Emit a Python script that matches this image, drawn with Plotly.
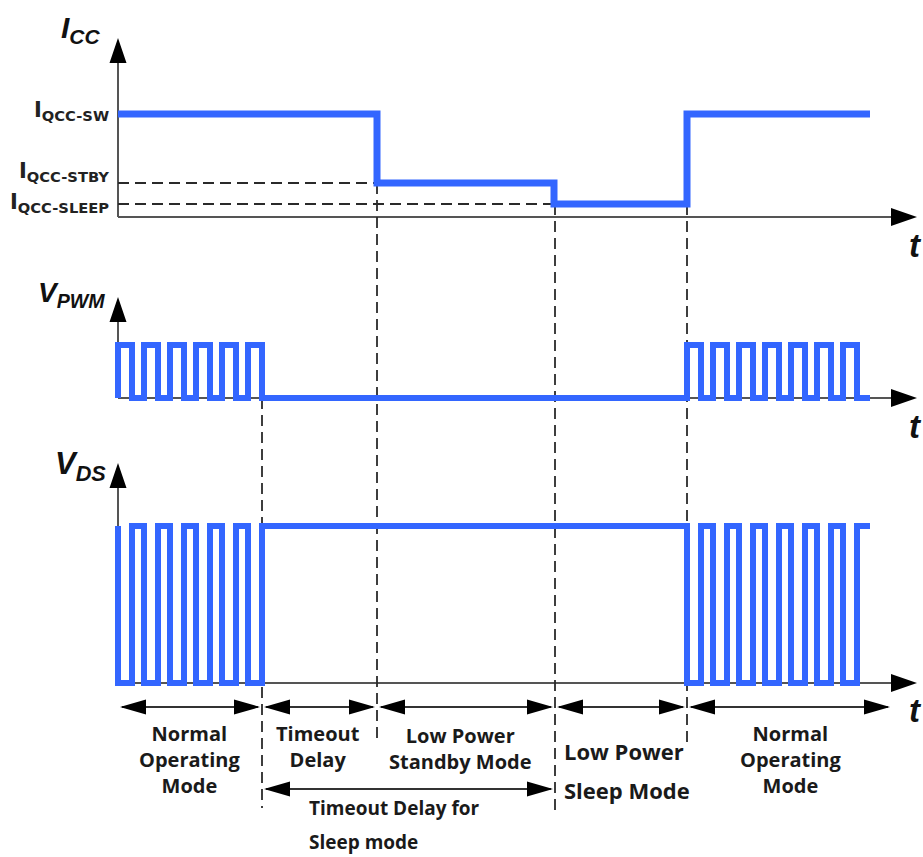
import plotly.graph_objects as go

W, H = 923, 857

# ---------------- data (time in arbitrary units) ----------------
# I_CC levels (normalised to the switching level)
icc_levels = [1.0, 0.33, 0.126]
icc_tick_text = ["I<sub>QCC-SW</sub>", "I<sub>QCC-STBY</sub>", "I<sub>QCC-SLEEP</sub>"]

# I_CC step trace
icc_t = [0, 259, 436, 569, 752]
icc_v = [1.0, 0.33, 0.126, 1.0, 1.0]

# PWM gate signal (edge times and levels, step trace)
pwm_t = [0, 0, 14, 26, 40, 52, 66, 78, 92, 104, 118, 130, 144,
         569, 583, 595, 609, 621, 635, 647, 661, 673, 687, 699, 713, 725, 739, 752]
pwm_v = [0, 1, 0, 1, 0, 1, 0, 1, 0, 1, 0, 1, 0,
         1, 0, 1, 0, 1, 0, 1, 0, 1, 0, 1, 0, 1, 0, 0]

# Drain-source voltage (complementary step trace)
vds_t = pwm_t
vds_v = [1, 0, 1, 0, 1, 0, 1, 0, 1, 0, 1, 0, 1,
         0, 1, 0, 1, 0, 1, 0, 1, 0, 1, 0, 1, 0, 1, 1]

# Mode boundaries along time axis
mode_bounds = [0, 144, 259, 437, 569, 774]
sleep_timeout = [144, 437]
event_times = [144, 259, 437, 569]

# ---------------- layout helpers (pixel geometry) ----------------
X0 = 118            # pixel of t = 0
BLUE = "#3366ff"
AXC = "#555555"
DARK = "#1a1a1a"


def panel_range(base_px, one_px):
    s = base_px - one_px
    return [-(H - base_px) / s, base_px / s]


def tx(xp):
    return xp - X0


panels = [  # baseline px, level-1 px, arrow tip px
    (217, 114, 38),
    (398, 345, 297),
    (683, 526, 463),
]
AXIS_END = tx(917)

fig = go.Figure()

# ---------------- axes (lines + arrowheads) ----------------
tri_x, tri_y = [], []


def add_tri(pts):
    for p in pts:
        tri_x.append(p[0])
        tri_y.append(p[1])
    tri_x.append(pts[0][0])
    tri_y.append(pts[0][1])
    tri_x.append(None)
    tri_y.append(None)


for base, one, tip in panels:
    fig.add_shape(type="line", xref="x", yref="y4", x0=0, x1=0, y0=base, y1=tip + 10,
                  line=dict(color=AXC, width=2), layer="below")
    fig.add_shape(type="line", xref="x", yref="y4", x0=0, x1=AXIS_END - 10, y0=base, y1=base,
                  line=dict(color=AXC, width=2), layer="below")
    add_tri([(0, tip), (-8.5, tip + 25), (8.5, tip + 25)])
    add_tri([(AXIS_END, base), (AXIS_END - 26, base - 9), (AXIS_END - 26, base + 9)])

# ---------------- dashed guide lines ----------------
DASH = dict(color="#2a2a2a", width=1.8, dash="11px,6px")
fig.add_shape(type="line", xref="x", yref="y", x0=0, x1=icc_t[1], y0=icc_levels[1], y1=icc_levels[1],
              line=DASH, layer="below")
fig.add_shape(type="line", xref="x", yref="y", x0=0, x1=icc_t[2], y0=icc_levels[2], y1=icc_levels[2],
              line=DASH, layer="below")
v_extent = {144: (398, 808), 259: (183, 742), 437: (204, 812), 569: (204, 742)}
for t in event_times:
    y0, y1 = v_extent[t]
    fig.add_shape(type="line", xref="x", yref="y4", x0=t, x1=t, y0=y0, y1=y1, line=DASH, layer="below")

# ---------------- mode arrows ----------------
ROW1, ROW2 = 707, 789
AL, AH = 26, 7.5
for a, b in zip(mode_bounds[:-1], mode_bounds[1:]):
    fig.add_shape(type="line", xref="x", yref="y4", x0=a + 4, x1=b - 4, y0=ROW1, y1=ROW1,
                  line=dict(color="#333333", width=2), layer="below")
    add_tri([(a + 2, ROW1), (a + 2 + AL, ROW1 - AH), (a + 2 + AL, ROW1 + AH)])
    add_tri([(b - 2, ROW1), (b - 2 - AL, ROW1 - AH), (b - 2 - AL, ROW1 + AH)])
a, b = sleep_timeout
fig.add_shape(type="line", xref="x", yref="y4", x0=a + 4, x1=b - 4, y0=ROW2, y1=ROW2,
              line=dict(color="#333333", width=2), layer="below")
add_tri([(a + 2, ROW2), (a + 2 + AL, ROW2 - AH), (a + 2 + AL, ROW2 + AH)])
add_tri([(b - 2, ROW2), (b - 2 - AL, ROW2 - AH), (b - 2 - AL, ROW2 + AH)])

fig.add_trace(go.Scatter(x=tri_x, y=tri_y, mode="lines", fill="toself", fillcolor="black",
                         line=dict(width=0, color="black"), yaxis="y4", hoverinfo="skip",
                         showlegend=False))

# ---------------- waveforms ----------------
fig.add_trace(go.Scatter(x=icc_t, y=icc_v, mode="lines", yaxis="y",
                         line=dict(color=BLUE, width=7, shape="hv"), showlegend=False))
fig.add_trace(go.Scatter(x=pwm_t, y=pwm_v, mode="lines", yaxis="y2",
                         line=dict(color=BLUE, width=6, shape="hv"), showlegend=False))
fig.add_trace(go.Scatter(x=vds_t, y=vds_v, mode="lines", yaxis="y3",
                         line=dict(color=BLUE, width=6, shape="hv"), showlegend=False))

# ---------------- text ----------------
ann = []


def lab(text, xr, yc, size):
    ann.append(dict(text=text, x=tx(xr), y=yc, xref="x", yref="y4",
                    xanchor="right", yanchor="middle", showarrow=False,
                    font=dict(size=size, family="Liberation Sans", color="#111111",
                              weight="bold", style="italic")))


lab("I<sub>CC</sub>", 103, 29, 30)
lab("V<sub>PWM</sub>", 107, 294, 28)
lab("V<sub>DS</sub>", 108, 466, 31)

for yc in [245, 426, 710]:
    ann.append(dict(text="t", x=tx(907), y=yc, xref="x", yref="y4",
                    xanchor="left", yanchor="middle", showarrow=False,
                    font=dict(size=33, family="Liberation Sans", color="#111111",
                              weight="bold", style="italic")))

tick_shift = [3, 11, 1]
for lv, txt, sh in zip(icc_levels, icc_tick_text, tick_shift):
    ann.append(dict(text=txt, x=tx(111), y=lv, xref="x", yref="y",
                    xanchor="right", yanchor="middle", yshift=sh, showarrow=False,
                    font=dict(size=21, family="DejaVu Sans", color="#222222", weight="bold")))


def mode_text(text, xc, yc, size=20, xanchor="center"):
    ann.append(dict(text=text, x=tx(xc), y=yc, xref="x", yref="y4",
                    xanchor=xanchor, yanchor="middle", showarrow=False,
                    font=dict(size=size, family="Open Sans", color=DARK, weight="bold")))


mode_text("Normal<br>Operating<br>Mode", 189, 759)
mode_text("Timeout<br>Delay", 318, 746)
mode_text("Low Power<br>Standby Mode", 460, 748)
mode_text("Low Power", 624, 751, 22)
mode_text("Sleep Mode", 627, 790, 22)
mode_text("Normal<br>Operating<br>Mode", 790, 759)
mode_text("Timeout Delay for", 307, 808, 19, "left")
mode_text("Sleep mode", 307, 842, 19, "left")

fig.update_layout(
    width=W, height=H, margin=dict(l=0, r=0, t=0, b=0),
    paper_bgcolor="white", plot_bgcolor="rgba(0,0,0,0)",
    annotations=ann, showlegend=False,
    xaxis=dict(range=[tx(0), tx(W)], visible=False, domain=[0, 1], fixedrange=True),
    yaxis=dict(range=panel_range(217, 114), visible=False, domain=[0, 1], fixedrange=True),
    yaxis2=dict(range=panel_range(398, 345), visible=False, overlaying="y", fixedrange=True),
    yaxis3=dict(range=panel_range(683, 526), visible=False, overlaying="y", fixedrange=True),
    yaxis4=dict(range=[H, 0], visible=False, overlaying="y", fixedrange=True),
)

fig.write_html("out.html", config={"displayModeBar": False},
               post_script="document.body.style.margin='0';document.body.style.overflow='hidden';")
